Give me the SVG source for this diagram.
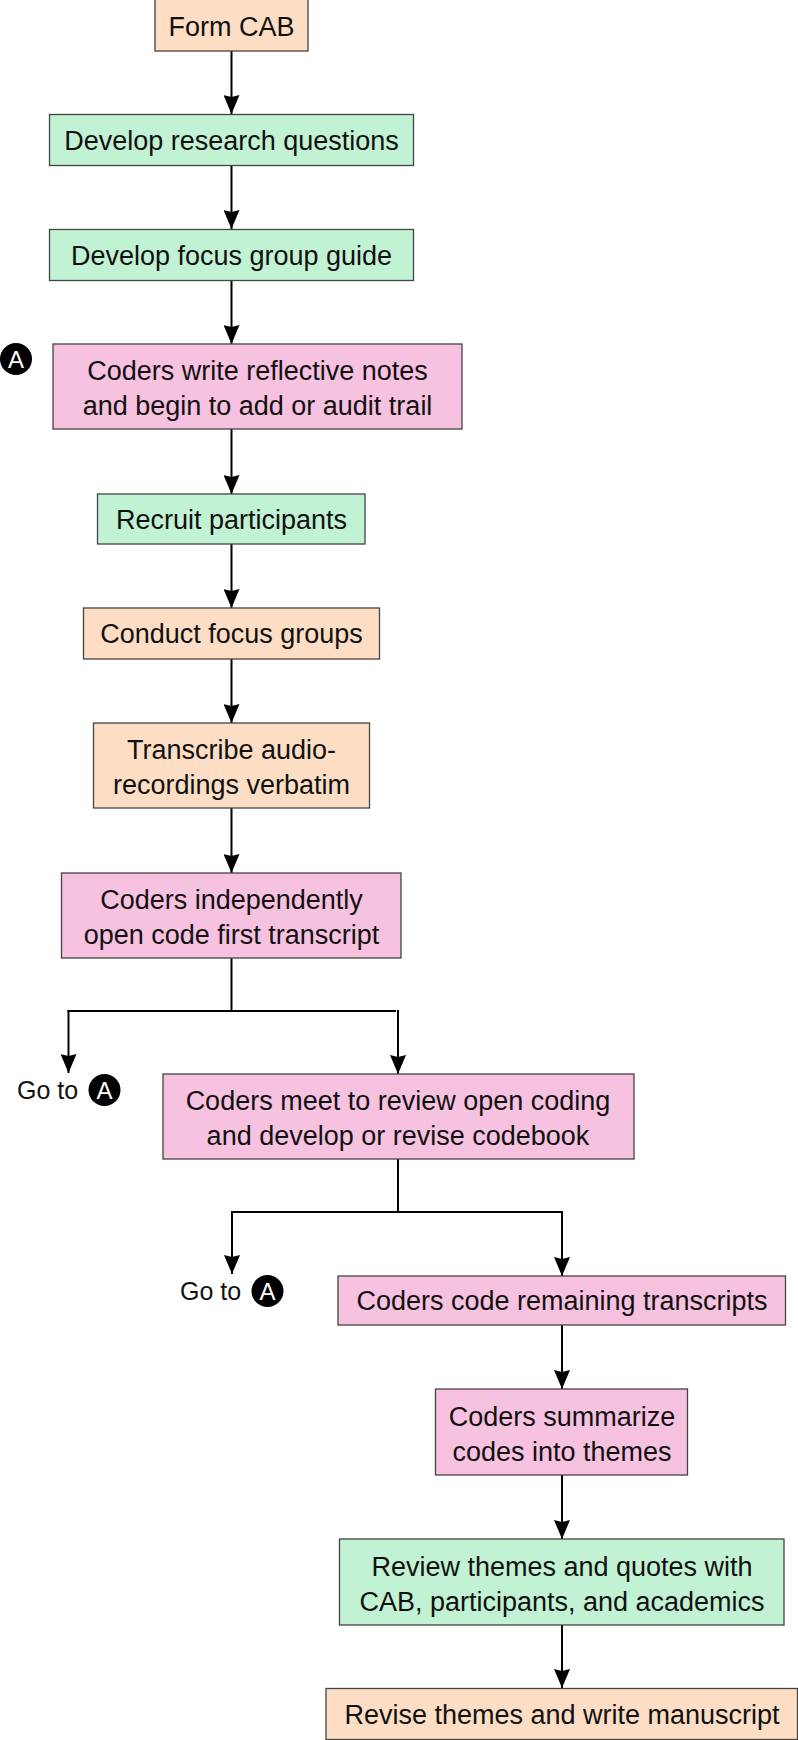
<svg xmlns="http://www.w3.org/2000/svg" width="798" height="1740" viewBox="0 0 798 1740">
<defs>
<marker id="ah" markerWidth="19" markerHeight="16" refX="19" refY="8" markerUnits="userSpaceOnUse" orient="auto" viewBox="0 0 19 16">
<path d="M0,0 L19,8 L0,16 L2,8 Z" fill="#000"/>
</marker>
<style>
.box{stroke:#444;stroke-width:1.3}
.peach{fill:#FDDEC4}
.green{fill:#C2F2D4}
.pink{fill:#F7C1E0}
.t{font-family:"Liberation Sans",Arial,sans-serif;font-size:27px;fill:#111;text-anchor:middle}
.g{font-family:"Liberation Sans",Arial,sans-serif;font-size:25px;fill:#111}
.c{fill:#000}
.a{font-family:"Liberation Sans",sans-serif;font-size:24px;fill:#fff;text-anchor:middle}
.ln{stroke:#000;stroke-width:2;fill:none}
</style>
</defs>
<rect width="798" height="1740" fill="#fff"/>
<g id="connectors">
<line class="ln" x1="231.5" y1="51" x2="231.5" y2="114" marker-end="url(#ah)"/>
<line class="ln" x1="231.5" y1="165" x2="231.5" y2="229" marker-end="url(#ah)"/>
<line class="ln" x1="231.5" y1="280" x2="231.5" y2="344" marker-end="url(#ah)"/>
<line class="ln" x1="231.5" y1="429" x2="231.5" y2="494" marker-end="url(#ah)"/>
<line class="ln" x1="231.5" y1="544" x2="231.5" y2="608" marker-end="url(#ah)"/>
<line class="ln" x1="231.5" y1="659" x2="231.5" y2="723" marker-end="url(#ah)"/>
<line class="ln" x1="231.5" y1="808" x2="231.5" y2="873" marker-end="url(#ah)"/>
<line class="ln" x1="231.5" y1="958" x2="231.5" y2="1011"/>
<line class="ln" x1="67.5" y1="1011" x2="396" y2="1011"/>
<line class="ln" x1="68.5" y1="1010" x2="68.5" y2="1073" marker-end="url(#ah)"/>
<line class="ln" x1="398" y1="1010" x2="398" y2="1074" marker-end="url(#ah)"/>
<line class="ln" x1="398" y1="1159" x2="398" y2="1212"/>
<line class="ln" x1="231" y1="1212" x2="563" y2="1212"/>
<line class="ln" x1="232" y1="1211" x2="232" y2="1274" marker-end="url(#ah)"/>
<line class="ln" x1="562" y1="1211" x2="562" y2="1276" marker-end="url(#ah)"/>
<line class="ln" x1="562" y1="1325" x2="562" y2="1389" marker-end="url(#ah)"/>
<line class="ln" x1="562" y1="1475" x2="562" y2="1539" marker-end="url(#ah)"/>
<line class="ln" x1="562" y1="1625" x2="562" y2="1688" marker-end="url(#ah)"/>
</g>
<g id="n1"><rect class="box peach" x="155" y="-1" width="153" height="52"/><text class="t" x="231.5" y="36">Form CAB</text></g>
<g id="n2"><rect class="box green" x="49.5" y="114.5" width="364" height="51"/><text class="t" x="231.5" y="150">Develop research questions</text></g>
<g id="n3"><rect class="box green" x="49.5" y="229.5" width="364" height="51"/><text class="t" x="231.5" y="265">Develop focus group guide</text></g>
<g id="markerA1"><circle class="c" cx="16" cy="359" r="16"/><text class="a" x="16" y="367.5">A</text></g>
<g id="n4"><rect class="box pink" x="53" y="344" width="409" height="85"/><text class="t" x="257.5" y="380">Coders write reflective notes</text><text class="t" x="257.5" y="415">and begin to add or audit trail</text></g>
<g id="n5"><rect class="box green" x="97.5" y="494" width="267.5" height="50"/><text class="t" x="231.5" y="528.5">Recruit participants</text></g>
<g id="n6"><rect class="box peach" x="83.5" y="608" width="296" height="51"/><text class="t" x="231.5" y="643">Conduct focus groups</text></g>
<g id="n7"><rect class="box peach" x="93.5" y="723" width="276" height="85"/><text class="t" x="231.5" y="759">Transcribe audio-</text><text class="t" x="231.5" y="794">recordings verbatim</text></g>
<g id="n8"><rect class="box pink" x="61.5" y="873" width="339.5" height="85"/><text class="t" x="231.5" y="909">Coders independently</text><text class="t" x="231.5" y="944">open code first transcript</text></g>
<g id="goto1"><text class="g" x="17" y="1099">Go to</text><circle class="c" cx="104.5" cy="1090" r="16"/><text class="a" x="104.5" y="1098.5">A</text></g>
<g id="n9"><rect class="box pink" x="163" y="1074" width="471" height="85"/><text class="t" x="398" y="1110">Coders meet to review open coding</text><text class="t" x="398" y="1145">and develop or revise codebook</text></g>
<g id="goto2"><text class="g" x="180" y="1300">Go to</text><circle class="c" cx="267.5" cy="1291" r="16"/><text class="a" x="267.5" y="1299.5">A</text></g>
<g id="n10"><rect class="box pink" x="338" y="1276" width="447.5" height="49"/><text class="t" x="562" y="1310">Coders code remaining transcripts</text></g>
<g id="n11"><rect class="box pink" x="435.5" y="1389" width="252" height="86"/><text class="t" x="562" y="1425.5">Coders summarize</text><text class="t" x="562" y="1460.5">codes into themes</text></g>
<g id="n12"><rect class="box green" x="339.5" y="1539" width="444.5" height="86"/><text class="t" x="562" y="1575.5">Review themes and quotes with</text><text class="t" x="562" y="1610.5">CAB, participants, and academics</text></g>
<g id="n13"><rect class="box peach" x="326" y="1688.5" width="471.5" height="51"/><text class="t" x="562" y="1724">Revise themes and write manuscript</text></g>
</svg>
